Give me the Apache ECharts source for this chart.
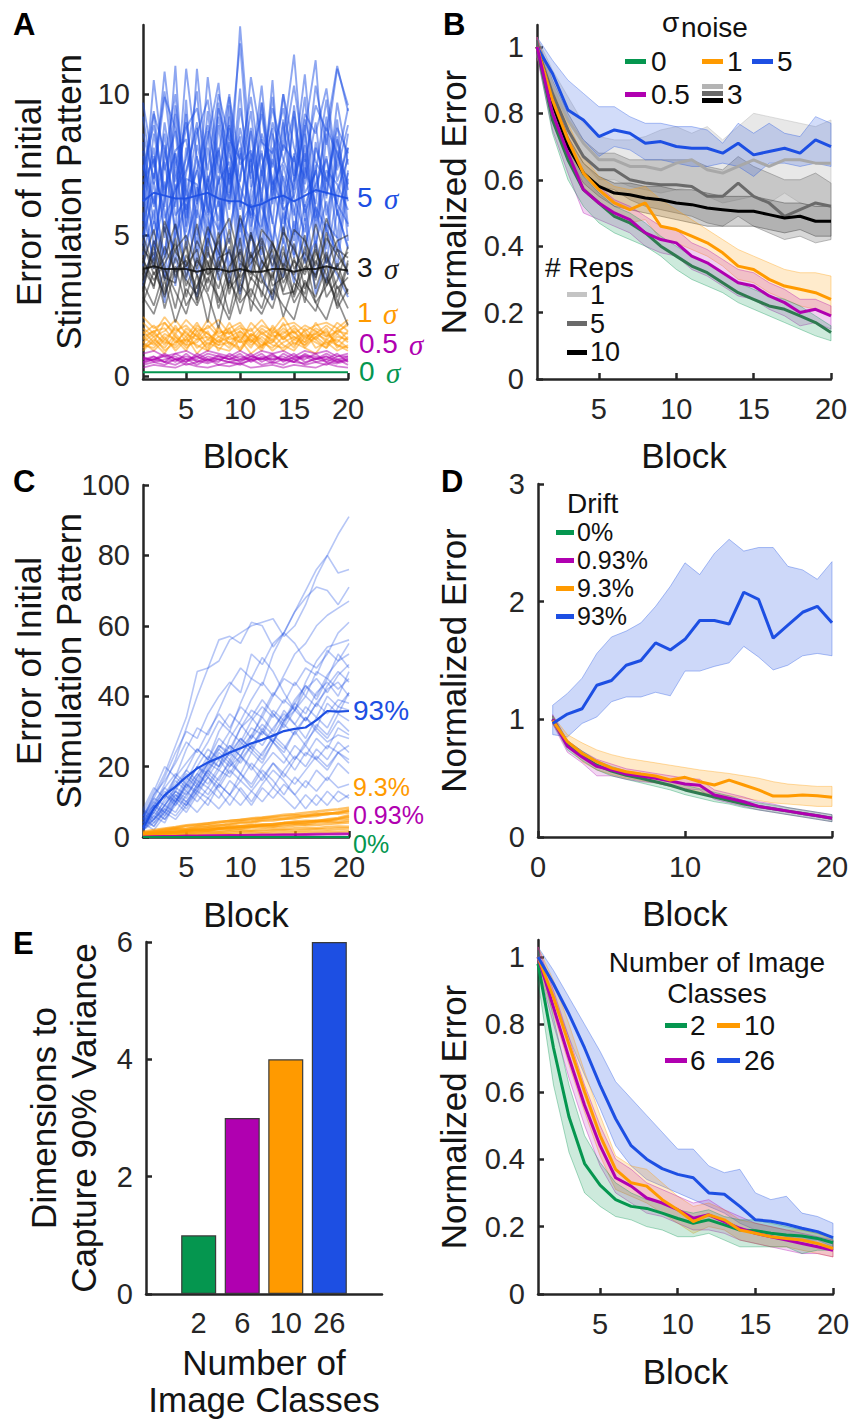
<!DOCTYPE html>
<html>
<head>
<meta charset="utf-8">
<script src="https://cdn.jsdelivr.net/npm/echarts@6/dist/echarts.min.js"></script>
<style>html,body{margin:0;padding:0;background:#fff}#c{width:851px;height:1422px}</style>
</head>
<body>
<div id="c"></div>
<script>
// ---------------- DATA ----------------
const BLOCKS = [1,2,3,4,5,6,7,8,9,10,11,12,13,14,15,16,17,18,19,20];

// Panel A : error of initial stimulation pattern per block (individual runs, estimated)
const A_BLUE = [
 [6.2,8.1,4.9,9.3,5.6,7.8,4.2,8.9,6.1,10.2,5.3,7.4,8.8,4.7,9.6,6.0,7.3,5.1,8.4,6.6],
 [5.8,4.1,7.6,5.2,9.8,3.9,7.1,5.5,8.3,4.6,7.9,3.8,6.4,9.1,5.0,7.7,4.4,8.6,5.7,7.2],
 [7.1,9.4,6.0,11.0,5.1,8.2,6.7,4.3,9.6,5.9,8.8,6.2,10.5,5.4,7.0,9.9,5.6,7.8,4.9,8.1],
 [4.6,6.9,3.5,7.4,4.8,6.1,8.7,5.0,7.2,3.7,6.6,8.0,4.5,7.5,5.9,4.1,8.3,6.4,9.1,5.3],
 [8.0,5.4,9.0,6.6,7.7,10.1,5.8,9.2,7.0,8.5,4.9,9.7,6.1,8.4,11.4,6.8,9.0,5.7,7.6,9.5],
 [5.3,7.2,5.9,4.0,8.1,5.6,9.4,6.3,4.7,7.9,6.0,5.2,8.6,6.9,4.3,7.4,6.1,9.2,5.8,4.6],
 [6.6,3.8,8.2,5.7,6.3,4.4,7.0,3.6,8.8,6.4,4.0,7.3,5.5,3.9,6.8,8.9,4.7,6.2,3.8,7.0],
 [9.2,6.8,10.8,7.4,9.0,6.2,8.4,10.4,6.5,12.4,7.6,9.3,6.6,10.0,8.1,7.0,10.3,8.2,10.9,9.6],
 [3.9,5.5,4.3,6.8,3.4,5.9,4.6,7.1,3.3,5.6,4.8,6.3,3.7,5.8,4.2,6.1,3.5,5.4,4.9,3.6],
 [7.5,6.1,8.6,4.9,7.2,9.0,5.7,7.9,10.0,6.0,8.7,5.3,7.7,6.2,9.2,5.5,8.1,7.0,6.1,8.6],
 [6.0,10.5,7.3,8.7,5.3,10.9,6.9,8.1,5.9,9.5,7.2,10.3,6.4,8.2,7.6,10.7,6.5,8.8,7.9,6.8],
 [4.9,7.8,5.1,6.2,9.3,5.0,6.4,8.0,5.2,7.0,9.4,6.0,4.8,7.1,5.7,8.2,5.3,6.9,8.5,4.8],
 [6.8,5.0,6.9,3.2,7.0,6.8,5.0,6.9,7.6,4.3,6.2,7.9,5.4,9.0,6.3,5.1,7.5,4.0,6.6,7.7],
 [8.6,7.0,9.9,8.8,6.4,8.6,9.8,7.2,8.9,6.9,10.6,8.3,7.9,9.5,7.1,9.3,8.6,10.2,7.3,8.9],
 [5.5,8.6,6.4,7.9,5.9,7.3,5.2,9.7,6.8,8.1,5.6,7.0,9.9,6.1,7.9,5.8,6.8,7.7,6.1,5.4],
 [7.8,4.6,6.2,9.6,6.7,4.7,8.1,6.0,9.2,5.1,7.7,4.6,8.1,6.0,4.8,8.6,5.9,4.5,8.0,6.2],
 [3.2,4.8,2.6,5.4,3.9,2.8,5.2,3.4,4.5,2.9,5.1,3.6,2.7,4.9,3.3,5.6,2.9,4.2,3.6,2.8],
 [6.3,9.3,8.0,6.0,10.9,7.7,6.6,9.5,7.9,11.8,6.7,8.6,7.4,10.0,6.9,8.7,11.2,6.3,9.7,7.5],
 [5.0,6.4,4.2,7.9,4.5,6.7,5.6,4.1,7.4,5.3,6.1,4.3,6.9,5.0,7.8,4.6,6.0,5.2,4.4,7.3],
 [7.3,8.9,6.6,8.0,8.4,6.1,10.6,7.5,6.3,8.8,7.0,9.7,6.8,7.6,9.4,6.5,7.2,9.8,6.9,8.1],
 [9.7,7.4,10.1,6.9,8.8,9.5,7.3,10.0,8.4,7.7,9.9,7.1,9.5,8.0,10.3,7.6,9.6,8.7,11.0,9.4],
 [4.3,5.9,3.4,5.0,6.1,3.6,4.9,6.2,3.9,5.4,3.7,6.5,4.2,3.5,5.5,4.0,4.8,3.3,5.9,4.5],
 [6.9,7.7,5.6,6.6,7.3,8.8,6.0,5.2,7.9,6.7,5.7,8.4,7.0,5.9,6.4,7.9,5.5,7.3,6.8,5.9],
 [8.3,6.0,7.7,10.0,6.2,7.3,8.9,6.8,9.9,7.5,8.0,6.5,9.0,7.7,6.6,9.1,7.6,6.9,8.8,7.9]
];
const A_BLACK = [
 [3.6,4.4,3.0,4.9,2.8,4.2,3.3,5.1,2.9,4.5,3.4,4.8,2.7,4.0,3.6,5.0,3.1,4.3,2.8,4.1],
 [4.2,3.1,5.3,3.5,4.6,2.6,4.9,3.7,5.2,3.3,4.4,2.8,4.7,3.9,2.9,4.6,3.4,5.1,3.7,3.0],
 [3.0,4.8,3.9,2.4,4.3,3.6,1.9,4.1,3.2,4.9,2.3,3.8,4.5,3.0,4.2,2.6,4.4,3.6,2.5,4.0],
 [4.7,3.6,4.2,5.4,3.5,4.8,4.0,3.1,4.6,2.7,5.0,4.1,3.4,5.3,3.8,4.4,3.5,4.9,4.3,3.7],
 [3.3,2.5,3.8,3.0,2.2,3.6,2.9,1.7,3.4,2.6,3.1,2.4,3.7,2.1,3.3,2.8,2.3,3.5,2.7,1.8],
 [4.0,5.2,3.4,4.5,5.0,3.8,5.3,4.4,3.6,5.7,4.2,4.9,3.9,5.1,4.5,3.7,5.4,4.0,4.8,5.0],
 [2.6,3.7,2.9,3.9,2.5,3.2,4.1,2.4,3.6,2.2,3.5,3.0,2.4,3.8,2.6,3.3,2.8,3.9,2.4,3.1],
 [3.8,3.2,4.6,3.7,3.9,4.5,3.0,4.2,4.4,3.5,4.0,4.6,3.2,3.5,4.7,3.1,4.1,3.3,4.5,3.6],
 [4.5,4.0,2.8,4.2,3.4,2.9,4.4,3.6,2.2,4.0,3.7,3.3,4.3,2.9,3.0,4.2,2.6,3.2,4.0,2.9],
 [3.1,4.6,3.5,3.3,4.8,2.7,3.9,4.8,3.1,3.6,5.1,3.4,2.9,4.4,3.5,2.9,4.7,2.8,3.4,4.6],
 [5.0,3.8,5.5,4.4,3.9,5.4,3.6,4.9,5.6,4.1,3.6,5.2,4.7,3.8,5.2,4.8,3.9,5.6,4.5,4.2],
 [2.8,2.2,3.4,1.9,3.1,2.5,3.5,2.8,2.0,3.3,2.7,2.2,3.1,2.5,2.0,3.4,2.6,2.0,3.2,2.4],
 [4.1,3.4,4.0,4.7,3.2,4.1,3.6,3.9,4.9,3.0,4.3,3.7,4.8,3.3,4.1,3.6,4.5,3.2,3.9,4.4],
 [3.4,4.2,2.4,3.8,4.1,3.1,4.6,2.6,3.9,4.4,2.8,4.1,3.5,4.6,2.8,3.9,3.6,4.4,3.1,3.5]
];
const A_ORANGE = [
 [1.3,1.6,1.1,1.8,1.2,1.5,0.9,1.7,1.3,1.4,1.0,1.6,1.2,1.9,1.1,1.5,1.3,1.7,1.0,1.4],
 [1.0,1.4,0.9,1.2,1.6,1.0,1.3,1.1,1.7,0.9,1.5,1.2,1.0,1.4,1.6,1.0,1.4,1.1,1.5,1.2],
 [1.6,1.2,1.9,1.4,1.1,1.8,1.5,1.2,1.9,1.3,1.7,1.0,1.8,1.3,1.6,1.2,1.9,1.4,1.6,1.8],
 [1.2,0.9,1.3,1.0,1.4,0.8,1.2,1.0,0.9,1.3,0.8,1.1,1.3,0.9,1.2,1.0,0.8,1.3,1.1,0.9],
 [1.9,1.5,2.1,1.6,1.8,1.4,2.0,1.5,1.7,1.9,1.4,1.8,1.6,2.1,1.5,1.8,1.6,1.4,1.9,1.6],
 [1.4,1.1,1.5,1.3,0.9,1.6,1.1,1.4,1.2,1.0,1.5,1.3,0.9,1.2,1.4,1.1,1.6,1.2,1.3,1.0],
 [0.9,1.3,1.0,1.5,1.1,1.2,1.6,0.9,1.4,1.2,1.3,0.9,1.5,1.1,0.9,1.4,1.2,1.0,1.4,1.3],
 [1.5,1.8,1.3,1.7,1.4,1.9,1.3,1.6,1.5,1.8,1.2,1.7,1.4,1.5,1.8,1.3,1.7,1.5,1.2,1.6],
 [1.1,1.0,1.4,0.9,1.3,1.1,0.9,1.3,1.0,1.5,1.1,1.4,1.1,1.0,1.3,1.6,1.0,1.2,0.9,1.1],
 [1.7,1.4,1.6,2.0,1.5,1.3,1.8,1.4,1.6,1.2,1.9,1.5,1.7,1.3,1.7,1.4,1.5,1.8,1.5,1.9],
 [1.2,1.5,1.2,1.1,1.7,1.4,1.0,1.8,1.1,1.6,1.3,1.0,1.6,1.4,1.0,1.7,1.3,1.0,1.7,1.3],
 [1.0,1.2,0.8,1.4,1.0,1.3,1.4,1.1,1.2,0.9,1.4,1.1,1.2,1.6,1.3,1.1,1.4,1.6,1.1,1.0],
 [2.1,1.7,1.9,1.5,2.0,1.6,1.7,2.0,1.5,1.7,1.6,2.0,1.5,1.8,1.9,1.6,1.8,1.9,1.7,2.0],
 [1.4,1.6,1.7,1.2,1.3,1.7,1.5,1.2,1.4,1.6,1.2,1.5,1.3,1.7,1.4,1.2,1.5,1.3,1.6,1.5]
];
const A_MAGENTA = [
 [0.6,0.7,0.5,0.8,0.6,0.7,0.5,0.7,0.6,0.8,0.5,0.7,0.6,0.7,0.5,0.8,0.6,0.7,0.5,0.6],
 [0.5,0.6,0.7,0.5,0.8,0.5,0.7,0.6,0.5,0.6,0.8,0.5,0.7,0.6,0.8,0.5,0.6,0.8,0.6,0.7],
 [0.7,0.5,0.6,0.7,0.5,0.8,0.6,0.5,0.8,0.6,0.6,0.8,0.5,0.8,0.6,0.7,0.5,0.6,0.8,0.5],
 [0.4,0.5,0.4,0.6,0.4,0.5,0.6,0.4,0.5,0.4,0.6,0.4,0.5,0.4,0.6,0.4,0.5,0.4,0.6,0.4],
 [0.8,0.9,0.7,0.8,0.9,0.7,0.9,0.8,0.7,0.9,0.7,0.9,0.8,0.9,0.7,0.9,0.8,0.9,0.7,0.8],
 [0.6,0.6,0.8,0.6,0.7,0.6,0.8,0.7,0.6,0.7,0.6,0.6,0.8,0.5,0.7,0.6,0.8,0.5,0.7,0.7],
 [0.5,0.7,0.5,0.6,0.6,0.4,0.6,0.6,0.7,0.5,0.7,0.6,0.6,0.6,0.5,0.7,0.7,0.6,0.5,0.6],
 [0.3,0.4,0.35,0.3,0.45,0.35,0.3,0.4,0.35,0.45,0.3,0.35,0.4,0.3,0.4,0.35,0.3,0.45,0.35,0.3],
 [0.65,0.55,0.75,0.6,0.5,0.7,0.55,0.75,0.6,0.55,0.7,0.6,0.75,0.55,0.65,0.75,0.6,0.7,0.55,0.65],
 [0.45,0.6,0.5,0.4,0.6,0.55,0.45,0.6,0.5,0.45,0.55,0.65,0.45,0.6,0.5,0.45,0.65,0.5,0.45,0.55]
];
const A_GREEN = [0.14,0.14,0.14,0.14,0.14,0.14,0.14,0.14,0.14,0.14,0.14,0.14,0.14,0.14,0.14,0.14,0.14,0.14,0.14,0.14];
const A_BLUE_MEAN = [6.2,6.5,6.4,6.3,6.3,6.4,6.5,6.3,6.2,6.2,6.0,6.1,6.3,6.4,6.2,6.4,6.6,6.5,6.4,6.3];
const A_BLACK_MEAN = [3.8,3.9,3.8,3.8,3.8,3.7,3.8,3.8,3.7,3.8,3.7,3.7,3.8,3.8,3.7,3.8,3.8,3.9,3.8,3.75];

// Panel B : normalized error, mean and band (estimated)
const B_GREEN = [1.0,0.78,0.66,0.57,0.53,0.49,0.47,0.44,0.40,0.37,0.34,0.32,0.29,0.26,0.24,0.22,0.21,0.19,0.17,0.14];
const B_GREEN_LO = [0.98,0.74,0.60,0.52,0.47,0.44,0.42,0.40,0.37,0.33,0.30,0.28,0.26,0.23,0.21,0.19,0.17,0.15,0.13,0.115];
const B_GREEN_HI = [1.02,0.81,0.70,0.61,0.56,0.52,0.50,0.47,0.43,0.40,0.37,0.35,0.32,0.29,0.27,0.25,0.24,0.22,0.19,0.16];
const B_MAG = [1.0,0.80,0.68,0.57,0.53,0.50,0.48,0.44,0.42,0.41,0.37,0.35,0.32,0.29,0.28,0.25,0.23,0.20,0.21,0.19];
const B_MAG_LO = [0.97,0.75,0.62,0.50,0.48,0.46,0.44,0.40,0.38,0.37,0.33,0.31,0.28,0.25,0.24,0.21,0.19,0.16,0.17,0.15];
const B_MAG_HI = [1.03,0.85,0.73,0.62,0.58,0.54,0.52,0.49,0.46,0.45,0.41,0.39,0.36,0.33,0.32,0.29,0.27,0.24,0.24,0.22];
const B_ORANGE = [1.0,0.84,0.72,0.62,0.57,0.53,0.51,0.53,0.46,0.45,0.43,0.41,0.38,0.34,0.33,0.30,0.28,0.27,0.26,0.24];
const B_ORANGE_LO = [0.97,0.80,0.68,0.58,0.53,0.49,0.47,0.48,0.42,0.41,0.39,0.37,0.34,0.30,0.29,0.26,0.24,0.22,0.21,0.19];
const B_ORANGE_HI = [1.03,0.88,0.77,0.67,0.61,0.58,0.57,0.58,0.54,0.51,0.48,0.45,0.42,0.39,0.37,0.35,0.33,0.32,0.32,0.31];
const B_BLUE = [1.0,0.92,0.81,0.78,0.73,0.75,0.74,0.71,0.715,0.70,0.695,0.695,0.68,0.71,0.675,0.685,0.695,0.68,0.72,0.70];
const B_BLUE_LO = [0.97,0.88,0.78,0.72,0.67,0.70,0.69,0.66,0.66,0.65,0.64,0.64,0.65,0.64,0.61,0.65,0.65,0.64,0.65,0.64];
const B_BLUE_HI = [1.03,0.96,0.90,0.86,0.82,0.82,0.79,0.77,0.77,0.76,0.76,0.75,0.71,0.77,0.74,0.77,0.74,0.73,0.79,0.77];
const B_REP1 = [1.0,0.88,0.78,0.71,0.66,0.66,0.64,0.64,0.63,0.65,0.66,0.63,0.62,0.64,0.66,0.64,0.66,0.66,0.65,0.65];
const B_REP1_LO = [0.97,0.83,0.72,0.65,0.60,0.60,0.58,0.57,0.56,0.57,0.58,0.55,0.53,0.54,0.55,0.53,0.56,0.53,0.52,0.52];
const B_REP1_HI = [1.03,0.93,0.85,0.77,0.73,0.72,0.72,0.73,0.75,0.76,0.74,0.76,0.72,0.76,0.80,0.79,0.78,0.77,0.76,0.78];
const B_REP5 = [1.0,0.86,0.75,0.67,0.63,0.63,0.60,0.59,0.585,0.585,0.58,0.55,0.55,0.59,0.55,0.53,0.49,0.51,0.53,0.52];
const B_REP5_LO = [0.97,0.82,0.70,0.62,0.58,0.57,0.54,0.52,0.51,0.50,0.49,0.47,0.46,0.49,0.46,0.44,0.42,0.43,0.41,0.42];
const B_REP5_HI = [1.03,0.90,0.80,0.72,0.68,0.68,0.66,0.66,0.66,0.66,0.66,0.64,0.63,0.67,0.64,0.62,0.60,0.60,0.62,0.59];
const B_REP10 = [1.0,0.83,0.70,0.62,0.58,0.56,0.555,0.545,0.54,0.53,0.525,0.515,0.51,0.505,0.505,0.495,0.485,0.49,0.475,0.475];
const B_REP10_LO = [0.98,0.80,0.67,0.59,0.55,0.52,0.51,0.50,0.49,0.48,0.47,0.46,0.46,0.46,0.46,0.45,0.44,0.45,0.43,0.43];
const B_REP10_HI = [1.02,0.86,0.73,0.65,0.61,0.59,0.59,0.58,0.58,0.57,0.57,0.56,0.55,0.55,0.55,0.54,0.53,0.53,0.52,0.52];

// Panel C : error with drift (individual runs, estimated)
const C_BLUE = [
 [4,8,12,10,16,22,27,33,30,38,45,43,52,58,64,70,76,80,86,91],
 [6,12,18,26,34,47,48,50,56,58,60,61,62,57,60,66,74,80,75,76],
 [3,9,15,22,31,40,48,56,57,55,61,60,54,58,64,68,71,70,66,71],
 [2,5,9,13,11,17,22,20,28,33,39,44,40,46,52,55,60,63,65,67],
 [5,11,17,24,30,28,35,40,44,41,52,49,55,58,55,50,48,52,58,61],
 [7,13,20,17,25,31,29,36,43,48,45,51,47,41,36,44,50,54,55,56],
 [3,6,4,10,15,13,20,26,24,31,36,34,40,45,43,48,46,53,50,55],
 [4,10,7,13,19,25,22,30,35,32,28,35,41,38,44,40,47,45,52,48],
 [6,3,8,12,9,15,19,16,22,27,24,30,27,33,38,35,41,44,40,47],
 [2,7,12,9,15,20,18,24,21,26,31,29,35,32,38,43,39,45,42,45],
 [5,12,16,21,27,24,30,35,31,37,34,39,35,31,36,33,38,42,44,40],
 [8,5,11,16,13,18,23,20,26,23,29,34,30,36,32,28,34,31,37,36],
 [3,8,14,11,17,14,19,25,22,18,24,21,27,24,30,26,32,29,35,33],
 [4,2,6,10,7,12,9,15,12,18,15,20,24,21,26,23,28,25,31,29],
 [6,11,9,14,18,15,21,26,23,28,25,22,27,32,29,34,30,27,29,28],
 [2,6,10,14,12,17,21,19,24,28,25,31,27,23,19,24,22,26,24,26],
 [5,9,6,11,8,13,17,14,19,16,21,18,14,19,23,20,25,22,27,24],
 [3,7,12,17,14,20,25,22,18,23,20,16,21,17,22,26,22,19,24,21],
 [7,4,9,13,10,15,12,17,21,18,14,19,16,12,17,14,19,16,21,18],
 [4,8,5,9,13,10,14,11,16,13,9,14,11,15,12,16,13,17,14,15],
 [2,5,8,6,10,7,11,15,12,9,13,10,14,11,8,12,9,13,10,12],
 [6,10,14,18,15,20,17,22,26,23,28,32,29,34,37,33,38,35,39,38],
 [3,7,5,10,14,18,15,20,24,21,26,30,27,33,36,40,37,43,47,44],
 [5,3,7,11,9,14,18,15,20,23,19,24,28,25,30,34,31,38,35,41],
 [4,9,13,10,15,12,17,13,9,14,10,15,19,16,12,8,12,9,13,11],
 [8,14,11,17,21,25,22,28,25,31,34,30,36,33,39,43,40,46,50,52],
 [3,5,9,7,12,16,14,19,17,22,26,23,29,26,22,27,31,28,33,30],
 [6,9,7,12,10,14,19,23,20,25,29,26,31,35,32,37,34,40,37,41],
 [2,4,7,5,9,13,11,8,12,16,13,17,21,18,15,19,23,20,24,22],
 [5,8,12,15,19,16,21,25,30,27,33,37,34,39,36,42,45,41,46,49]
];
const C_BLUE_MEAN = [2.5,8.1,11.9,14.3,17.1,19.5,21.2,22.5,24.0,25.2,26.6,27.6,28.8,30.1,30.7,31.1,33.2,35.8,35.6,35.8];
const C_ORANGE = [
 [1.0,1.4,1.6,2.1,2.3,2.7,2.9,3.4,3.5,4.0,4.1,4.6,4.7,5.2,5.3,5.8,6.0,6.6,6.8,7.5],
 [0.6,0.9,1.3,1.2,1.6,1.9,1.8,2.3,2.6,2.5,2.9,3.2,3.0,3.5,3.8,3.6,4.1,4.4,4.2,4.7],
 [1.2,1.6,2.2,2.6,3.1,3.4,3.9,4.1,4.6,4.8,5.3,5.5,5.9,6.3,6.5,6.9,7.2,7.6,7.9,8.3],
 [0.4,0.7,0.8,1.1,1.0,1.3,1.5,1.4,1.7,1.9,1.8,2.1,2.3,2.2,2.5,2.6,2.5,2.8,3.0,2.9],
 [0.8,1.1,1.5,1.8,1.7,2.2,2.5,2.4,2.9,3.1,3.4,3.3,3.7,4.0,3.9,4.3,4.6,4.5,5.0,5.3],
 [0.3,0.5,0.7,0.8,1.0,0.9,1.2,1.3,1.2,1.5,1.6,1.5,1.8,1.9,1.8,2.0,2.2,2.1,2.3,2.4],
 [1.5,2.0,2.4,2.8,3.3,3.6,3.8,4.3,4.5,4.9,5.0,5.4,5.7,5.9,6.2,6.0,6.4,6.8,6.6,7.0],
 [0.5,0.8,1.1,1.4,1.6,1.5,1.9,2.2,2.1,2.4,2.7,2.8,3.1,2.9,3.3,3.5,3.4,3.7,3.9,4.1],
 [0.9,1.2,1.1,1.5,1.9,2.1,2.0,2.5,2.8,3.0,2.9,3.4,3.6,3.9,4.2,4.1,4.5,4.8,5.2,5.8],
 [0.2,0.3,0.4,0.5,0.6,0.6,0.7,0.8,0.8,0.9,1.0,1.0,1.1,1.2,1.2,1.3,1.4,1.4,1.5,1.6],
 [0.7,1.0,1.4,1.3,1.8,2.0,2.4,2.6,2.5,3.0,3.3,3.6,3.5,4.0,4.4,4.6,4.5,5.0,5.4,6.2],
 [1.1,1.5,1.9,2.4,2.2,2.9,3.3,3.2,3.8,4.3,4.4,4.9,5.2,5.1,5.7,6.1,6.5,6.4,7.1,7.6]
];
const C_MAGENTA = [
 [0.1,0.2,0.3,0.3,0.4,0.45,0.5,0.5,0.6,0.6,0.65,0.7,0.7,0.8,0.8,0.85,0.9,0.9,1.0,1.0],
 [0.1,0.15,0.2,0.25,0.3,0.3,0.35,0.4,0.4,0.45,0.5,0.5,0.55,0.55,0.6,0.6,0.65,0.7,0.7,0.75]
];
const C_GREEN = [0,0,0,0,0,0,0,0,0,0,0,0,0,0,0,0,0,0,0,0];

// Panel D : normalized error with drift (estimated)
const D_GREEN = [1.0,0.78,0.69,0.61,0.56,0.525,0.50,0.47,0.44,0.40,0.37,0.34,0.31,0.28,0.26,0.24,0.22,0.20,0.18,0.16];
const D_GREEN_LO = [0.97,0.74,0.65,0.57,0.52,0.49,0.46,0.43,0.40,0.36,0.33,0.30,0.28,0.25,0.23,0.21,0.19,0.17,0.15,0.13];
const D_GREEN_HI = [1.03,0.82,0.73,0.65,0.60,0.56,0.54,0.51,0.48,0.44,0.41,0.38,0.35,0.31,0.29,0.27,0.25,0.23,0.21,0.19];
const D_MAG = [1.0,0.77,0.68,0.60,0.57,0.535,0.518,0.50,0.476,0.45,0.44,0.357,0.33,0.30,0.26,0.24,0.22,0.20,0.18,0.16];
const D_MAG_LO = [0.96,0.72,0.63,0.52,0.52,0.49,0.47,0.46,0.43,0.41,0.40,0.32,0.29,0.26,0.23,0.21,0.19,0.17,0.15,0.13];
const D_MAG_HI = [1.04,0.82,0.73,0.66,0.62,0.58,0.56,0.54,0.52,0.50,0.49,0.40,0.37,0.34,0.30,0.28,0.25,0.23,0.21,0.19];
const D_ORANGE = [0.99,0.81,0.71,0.64,0.585,0.555,0.535,0.518,0.484,0.507,0.47,0.442,0.484,0.442,0.40,0.348,0.348,0.357,0.35,0.337];
const D_ORANGE_LO = [0.96,0.77,0.64,0.57,0.53,0.50,0.48,0.46,0.43,0.41,0.38,0.36,0.35,0.33,0.31,0.29,0.28,0.27,0.26,0.26];
const D_ORANGE_HI = [1.03,0.87,0.80,0.74,0.70,0.67,0.65,0.63,0.61,0.59,0.57,0.555,0.54,0.52,0.50,0.47,0.45,0.44,0.43,0.43];
const D_BLUE = [0.965,1.045,1.09,1.29,1.33,1.46,1.50,1.65,1.59,1.68,1.84,1.84,1.81,2.08,2.02,1.69,1.80,1.91,1.96,1.82];
const D_BLUE_LO = [0.87,0.85,0.965,1.02,1.15,1.19,1.19,1.23,1.20,1.41,1.41,1.45,1.48,1.62,1.53,1.42,1.46,1.54,1.56,1.54];
const D_BLUE_HI = [1.12,1.22,1.35,1.56,1.70,1.75,1.82,1.96,2.13,2.33,2.23,2.41,2.53,2.43,2.46,2.46,2.30,2.27,2.19,2.34];

// Panel E : dimensions to capture 90% variance
const E_CLASSES = ['2','6','10','26'];
const E_POS = [1,2,3,4];
const E_DIMS = [1,3,4,6];

// Panel F : normalized error by number of image classes (estimated)
const F_GREEN = [0.98,0.73,0.525,0.387,0.323,0.28,0.26,0.254,0.24,0.224,0.21,0.22,0.205,0.19,0.188,0.18,0.175,0.172,0.165,0.152];
const F_GREEN_LO = [0.93,0.62,0.42,0.30,0.26,0.23,0.22,0.20,0.19,0.17,0.17,0.18,0.16,0.14,0.14,0.14,0.14,0.12,0.13,0.13];
const F_GREEN_HI = [1.02,0.82,0.62,0.47,0.39,0.33,0.30,0.28,0.27,0.25,0.24,0.25,0.23,0.22,0.22,0.21,0.20,0.19,0.18,0.17];
const F_MAG = [1.0,0.85,0.70,0.56,0.44,0.345,0.32,0.285,0.27,0.25,0.225,0.235,0.215,0.195,0.18,0.17,0.16,0.15,0.14,0.13];
const F_MAG_LO = [0.97,0.80,0.64,0.50,0.38,0.30,0.27,0.24,0.23,0.21,0.19,0.19,0.18,0.16,0.15,0.14,0.13,0.12,0.12,0.11];
const F_MAG_HI = [1.03,0.90,0.76,0.62,0.50,0.40,0.37,0.33,0.31,0.29,0.27,0.28,0.25,0.23,0.21,0.20,0.19,0.18,0.17,0.16];
const F_ORANGE = [1.0,0.88,0.74,0.60,0.47,0.37,0.33,0.32,0.28,0.25,0.215,0.235,0.22,0.19,0.18,0.17,0.165,0.16,0.15,0.135];
const F_ORANGE_LO = [0.97,0.83,0.68,0.54,0.41,0.31,0.29,0.27,0.24,0.21,0.18,0.20,0.19,0.16,0.15,0.14,0.14,0.13,0.12,0.11];
const F_ORANGE_HI = [1.03,0.93,0.80,0.66,0.53,0.41,0.38,0.37,0.33,0.29,0.26,0.27,0.25,0.22,0.21,0.20,0.19,0.19,0.18,0.16];
const F_BLUE = [1.0,0.92,0.83,0.73,0.62,0.52,0.44,0.40,0.372,0.355,0.345,0.30,0.296,0.26,0.22,0.216,0.207,0.195,0.185,0.167];
const F_BLUE_LO = [0.97,0.88,0.76,0.65,0.55,0.44,0.38,0.34,0.32,0.30,0.28,0.26,0.24,0.21,0.19,0.18,0.17,0.16,0.16,0.14];
const F_BLUE_HI = [1.03,0.96,0.88,0.80,0.72,0.63,0.58,0.53,0.48,0.43,0.43,0.38,0.36,0.37,0.30,0.28,0.29,0.24,0.23,0.21];

// ---------------- STYLE ----------------
const FONT = "'Liberation Sans', Arial, Helvetica, sans-serif";
const GREEN = '#05964f', MAGENTA = '#b000b0', ORANGE = '#ff9a00', BLUE = '#1d4fe3';
const GRAY1 = '#b4b4b4', GRAY5 = '#6a6a6a', BLACK = '#000000';
const AXC = '#262626';

function rgba(hex, a) {
  const n = parseInt(hex.slice(1), 16);
  return 'rgba(' + ((n >> 16) & 255) + ',' + ((n >> 8) & 255) + ',' + (n & 255) + ',' + a + ')';
}
function pts(ys) { return ys.map((y, i) => [BLOCKS[i], y]); }
function line(g, ys, color, width, opacity, z) {
  return { type: 'line', xAxisIndex: g, yAxisIndex: g, data: pts(ys), symbol: 'none', showSymbol: false,
    lineStyle: { color: color, width: width, opacity: opacity }, itemStyle: { color: color },
    silent: true, animation: false, z: z || 2 };
}
// shaded band between lo and hi, drawn as one polygon through the axis scales
function band(g, lo, hi, color, alpha, edge) {
  return { type: 'custom', xAxisIndex: g, yAxisIndex: g, silent: true, animation: false, z: 1,
    data: BLOCKS.map((b, i) => [b, lo[i], hi[i]]),
    encode: { x: 0, y: [1, 2] },
    renderItem: function (params, api) {
      if (params.dataIndexInside !== 0) return null;
      const n = params.dataInsideLength;
      const up = [], dn = [];
      for (let i = 0; i < n; i++) {
        up.push(api.coord([api.value(0, i), api.value(2, i)]));
        dn.push(api.coord([api.value(0, i), api.value(1, i)]));
      }
      return { type: 'polygon', shape: { points: up.concat(dn.reverse()) },
        style: { fill: rgba(color, alpha), stroke: rgba(color, edge), lineWidth: 1 } };
    }
  };
}
function axis(g, min, max, ticks, margin, name, gap, extra) {
  return Object.assign({
    gridIndex: g, type: 'value', min: min, max: max,
    axisLine: { show: true, onZero: false, lineStyle: { color: AXC, width: 2.5 } },
    axisTick: { show: true, inside: true, length: 6, lineStyle: { color: AXC, width: 2.5 }, customValues: ticks },
    axisLabel: { show: true, customValues: ticks, color: AXC, fontSize: 29, fontFamily: FONT, margin: margin },
    splitLine: { show: false },
    name: name, nameLocation: 'middle', nameGap: gap, nameMoveOverlap: false,
    nameTextStyle: { fontSize: 35, color: '#141414', fontFamily: FONT, lineHeight: 40 }
  }, extra || {});
}

// ---------------- SERIES ----------------
const series = [];
// A
A_ORANGE.forEach(r => series.push(line(0, r, ORANGE, 1.8, 0.5, 2)));
A_MAGENTA.forEach(r => series.push(line(0, r, MAGENTA, 1.8, 0.5, 3)));
A_BLUE.forEach(r => series.push(line(0, r, BLUE, 1.9, 0.5, 4)));
A_BLACK.forEach(r => series.push(line(0, r, '#222222', 1.7, 0.5, 5)));
series.push(line(0, A_BLUE_MEAN, BLUE, 2, 0.9, 6));
series.push(line(0, A_BLACK_MEAN, '#111111', 2, 0.85, 6));
series.push(line(0, A_GREEN, GREEN, 2, 1, 7));
// B
series.push(band(1, B_REP1_LO, B_REP1_HI, '#bdbdbd', 0.35, 0.5));
series.push(band(1, B_REP5_LO, B_REP5_HI, '#7a7a7a', 0.3, 0.5));
series.push(band(1, B_REP10_LO, B_REP10_HI, '#333333', 0.22, 0.4));
series.push(band(1, B_BLUE_LO, B_BLUE_HI, BLUE, 0.2, 0.35));
series.push(band(1, B_ORANGE_LO, B_ORANGE_HI, ORANGE, 0.2, 0.35));
series.push(band(1, B_MAG_LO, B_MAG_HI, MAGENTA, 0.18, 0.35));
series.push(band(1, B_GREEN_LO, B_GREEN_HI, GREEN, 0.2, 0.35));
series.push(line(1, B_REP1, '#a8a8a8', 3, 1, 3));
series.push(line(1, B_REP5, GRAY5, 3, 1, 3));
series.push(line(1, B_REP10, BLACK, 3, 1, 4));
series.push(line(1, B_BLUE, BLUE, 3, 1, 4));
series.push(line(1, B_GREEN, '#2f7a50', 3, 1, 4));
series.push(line(1, B_ORANGE, ORANGE, 3, 1, 5));
series.push(line(1, B_MAG, MAGENTA, 3, 1, 5));
// C
C_BLUE.forEach(r => series.push(line(2, r, BLUE, 1.6, 0.32, 2)));
C_ORANGE.forEach(r => series.push(line(2, r, ORANGE, 2.6, 0.6, 3)));
C_MAGENTA.forEach(r => series.push(line(2, r, MAGENTA, 2, 0.8, 4)));
series.push(line(2, C_GREEN, GREEN, 2, 1, 4));
series.push(line(2, C_BLUE_MEAN, BLUE, 2.2, 1, 5));
// D
series.push(band(3, D_BLUE_LO, D_BLUE_HI, BLUE, 0.22, 0.35));
series.push(band(3, D_ORANGE_LO, D_ORANGE_HI, ORANGE, 0.22, 0.35));
series.push(band(3, D_MAG_LO, D_MAG_HI, MAGENTA, 0.16, 0.35));
series.push(band(3, D_GREEN_LO, D_GREEN_HI, GREEN, 0.18, 0.35));
series.push(line(3, D_GREEN, '#2f7a50', 3, 1, 4));
series.push(line(3, D_MAG, MAGENTA, 3, 1, 5));
series.push(line(3, D_ORANGE, ORANGE, 3, 1, 5));
series.push(line(3, D_BLUE, BLUE, 3, 1, 5));
// E
series.push({ type: 'bar', xAxisIndex: 4, yAxisIndex: 4, barWidth: 35, animation: false, silent: true,
  data: E_DIMS.map((v, i) => ({ value: [E_POS[i], v], itemStyle: { color: [GREEN, MAGENTA, ORANGE, BLUE][i] } })),
  itemStyle: { borderColor: '#3a3a3a', borderWidth: 1.2 } });
// F
series.push(band(5, F_BLUE_LO, F_BLUE_HI, BLUE, 0.22, 0.35));
series.push(band(5, F_ORANGE_LO, F_ORANGE_HI, ORANGE, 0.2, 0.35));
series.push(band(5, F_MAG_LO, F_MAG_HI, MAGENTA, 0.16, 0.35));
series.push(band(5, F_GREEN_LO, F_GREEN_HI, GREEN, 0.2, 0.35));
series.push(line(5, F_GREEN, GREEN, 3, 1, 4));
series.push(line(5, F_MAG, MAGENTA, 3, 1, 5));
series.push(line(5, F_ORANGE, ORANGE, 3, 1, 5));
series.push(line(5, F_BLUE, BLUE, 3, 1, 6));

// ---------------- AXES ----------------
const BLOCK_TICKS = [5, 10, 15, 20];
const NORM_TICKS = [0, 0.2, 0.4, 0.6, 0.8, 1];
const xAxis = [
  axis(0, 1, 20, BLOCK_TICKS, 15, 'Block', 56),
  axis(1, 1, 20, BLOCK_TICKS, 15, 'Block', 56),
  axis(2, 1, 20, BLOCK_TICKS, 15, 'Block', 57),
  axis(3, 0, 20, [0, 10, 20], 15, 'Block', 56),
  axis(4, -0.21, 5.21, E_POS, 14, 'Number of\nImage Classes', 50,
    { axisTick: { show: false }, axisLabel: { show: true, customValues: E_POS, color: AXC, fontSize: 29, fontFamily: FONT, margin: 14,
      formatter: v => E_CLASSES[E_POS.indexOf(v)] || '' },
      nameTextStyle: { fontSize: 35, color: '#141414', fontFamily: FONT, lineHeight: 37 } }),
  axis(5, 1, 20, BLOCK_TICKS, 15, 'Block', 57)
];
const yAxis = [
  axis(0, -0.1, 12.45, [0, 5, 10], 13, 'Error of Initial\nStimulation Pattern', 55),
  axis(1, 0, 1.066, NORM_TICKS, 13, 'Normalized Error', 64),
  axis(2, 0, 100, [0, 20, 40, 60, 80, 100], 13, 'Error of Initial\nStimulation Pattern', 55),
  axis(3, 0, 3, [0, 1, 2, 3], 13, 'Normalized Error', 65),
  axis(4, 0, 6, [0, 2, 4, 6], 13, 'Dimensions to\nCapture 90% Variance', 43),
  axis(5, 0, 1.0504, NORM_TICKS, 13, 'Normalized Error', 65)
];
const grid = [
  { left: 143, top: 25, width: 205, height: 354 },
  { left: 537, top: 25, width: 294, height: 354 },
  { left: 143, top: 485, width: 206, height: 352 },
  { left: 538, top: 484, width: 294, height: 353 },
  { left: 146, top: 942, width: 236, height: 352 },
  { left: 538, top: 940, width: 295, height: 354 }
].map(g => Object.assign(g, { containLabel: false, outerBoundsMode: 'none' }));

// ---------------- ANNOTATIONS / LEGENDS ----------------
function txt(x, y, s, size, color, opts) {
  const o = opts || {};
  return { type: 'text', silent: true, z: 100, style: {
    x: x, y: y, text: s, fill: color, fontSize: size, fontFamily: o.family || FONT,
    fontWeight: o.weight || 'normal', fontStyle: o.style || 'normal',
    align: o.align || 'left', verticalAlign: 'middle', textAlign: o.align || 'left', textVerticalAlign: 'middle' } };
}
function bar(x, y, w, h, color) {
  return { type: 'rect', silent: true, z: 100, shape: { x: x, y: y, width: w, height: h }, style: { fill: color } };
}
const SERIF = "'Liberation Serif', 'DejaVu Serif', serif";
const graphic = [
  // panel letters
  txt(13, 24, 'A', 31, '#000', { weight: 'bold' }),
  txt(443, 24, 'B', 31, '#000', { weight: 'bold' }),
  txt(13, 481, 'C', 31, '#000', { weight: 'bold' }),
  txt(441, 481, 'D', 31, '#000', { weight: 'bold' }),
  txt(13, 943, 'E', 31, '#000', { weight: 'bold' }),
  // panel A labels
  txt(357, 197, '5', 28, BLUE), txt(384, 199, 'σ', 29, BLUE, { family: SERIF, style: 'italic' }),
  txt(357, 267, '3', 28, '#1a1a1a'), txt(384, 269, 'σ', 29, '#1a1a1a', { family: SERIF, style: 'italic' }),
  txt(357, 312, '1', 28, ORANGE), txt(383, 314, 'σ', 29, ORANGE, { family: SERIF, style: 'italic' }),
  txt(359, 343, '0.5', 28, MAGENTA), txt(409, 345, 'σ', 29, MAGENTA, { family: SERIF, style: 'italic' }),
  txt(359, 371, '0', 28, GREEN), txt(386, 373, 'σ', 29, GREEN, { family: SERIF, style: 'italic' }),
  // panel C labels
  txt(353, 710, '93%', 28, BLUE),
  txt(353, 787, '9.3%', 25, ORANGE),
  txt(353, 815, '0.93%', 25, MAGENTA),
  txt(353, 844, '0%', 25, GREEN),
  // panel B legend
  txt(662, 22, 'σ', 28, '#111'), txt(681, 27, 'noise', 28, '#111'),
  bar(625, 59, 21, 5, GREEN), txt(651, 61, '0', 28, '#111'),
  bar(702, 59, 21, 5, ORANGE), txt(727, 61, '1', 28, '#111'),
  bar(752, 59, 21, 5, BLUE), txt(777, 61, '5', 28, '#111'),
  bar(625, 92, 21, 5, MAGENTA), txt(651, 94, '0.5', 28, '#111'),
  bar(702, 84, 21, 5, GRAY1), bar(702, 91, 21, 5, GRAY5), bar(702, 98, 21, 5, BLACK), txt(727, 94, '3', 28, '#111'),
  txt(545, 267, '# Reps', 28, '#111'),
  bar(567, 292, 20, 5, '#c4c4c4'), txt(590, 295, '1', 27, '#111'),
  bar(567, 321, 20, 5, GRAY5), txt(590, 324, '5', 27, '#111'),
  bar(567, 350, 20, 5, BLACK), txt(590, 352, '10', 27, '#111'),
  // panel D legend
  txt(567, 503, 'Drift', 28, '#111'),
  bar(556, 530, 18, 5, GREEN), txt(577, 532, '0%', 25, '#111'),
  bar(556, 558, 18, 5, MAGENTA), txt(577, 560, '0.93%', 25, '#111'),
  bar(556, 586, 18, 5, ORANGE), txt(577, 588, '9.3%', 25, '#111'),
  bar(556, 614, 18, 5, BLUE), txt(577, 616, '93%', 25, '#111'),
  // panel F legend
  txt(717, 962, 'Number of Image', 28, '#111', { align: 'center' }),
  txt(717, 993, 'Classes', 28, '#111', { align: 'center' }),
  bar(665, 1023, 22, 5, GREEN), txt(690, 1025, '2', 28, '#111'),
  bar(717, 1023, 23, 5, ORANGE), txt(744, 1025, '10', 28, '#111'),
  bar(665, 1058, 22, 5, MAGENTA), txt(690, 1060, '6', 28, '#111'),
  bar(717, 1058, 23, 5, BLUE), txt(744, 1060, '26', 28, '#111')
];

const chart = echarts.init(document.getElementById('c'), null, { renderer: 'svg', width: 851, height: 1422 });
chart.setOption({
  backgroundColor: '#ffffff',
  animation: false,
  textStyle: { fontFamily: FONT },
  grid: grid, xAxis: xAxis, yAxis: yAxis, series: series, graphic: graphic
});
</script>
</body>
</html>
